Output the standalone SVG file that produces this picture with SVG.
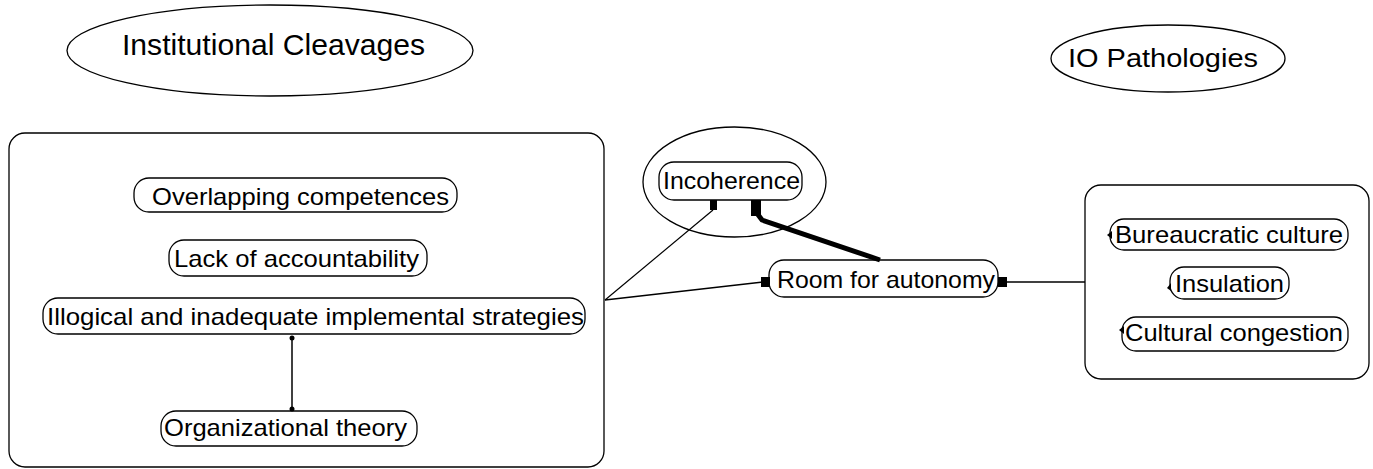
<svg xmlns="http://www.w3.org/2000/svg" width="1373" height="469" viewBox="0 0 1373 469">
<style>
.shape{fill:#fff;stroke:#000;stroke-width:1.3}
.t{font-family:"Liberation Sans",Arial,sans-serif;font-size:24px;fill:#000}
.h{font-family:"Liberation Sans",Arial,sans-serif;fill:#000}
.c{stroke:#000;fill:none}
.m{fill:#000;stroke:none}
</style>
<rect width="1373" height="469" fill="#fff"/>
<g id="institutional-cleavages">
<ellipse class="shape" cx="270" cy="50.5" rx="203" ry="45.5"/>
<text class="h" x="122" y="55" font-size="30" textLength="303" lengthAdjust="spacingAndGlyphs">Institutional Cleavages</text>
</g>
<g id="io-pathologies">
<ellipse class="shape" cx="1168" cy="58.5" rx="117" ry="33.5"/>
<text class="h" x="1068" y="67" font-size="26" textLength="190" lengthAdjust="spacingAndGlyphs">IO Pathologies</text>
</g>
<g id="left-container">
<rect class="shape" x="9" y="133" width="595" height="334" rx="16"/>
</g>
<g id="overlapping-competences">
<rect class="shape" x="134" y="178" width="323" height="34" rx="15"/>
<text class="t" x="152" y="205" textLength="297" lengthAdjust="spacingAndGlyphs">Overlapping competences</text>
</g>
<g id="lack-of-accountability">
<rect class="shape" x="169" y="240" width="258" height="36" rx="15"/>
<text class="t" x="174" y="267" textLength="245" lengthAdjust="spacingAndGlyphs">Lack of accountability</text>
</g>
<g id="illogical-strategies">
<rect class="shape" x="43" y="298" width="542" height="36" rx="15"/>
<text class="t" x="47" y="325" textLength="537" lengthAdjust="spacingAndGlyphs">Illogical and inadequate implemental strategies</text>
</g>
<g id="organizational-theory">
<rect class="shape" x="161" y="411" width="256" height="35" rx="15"/>
<text class="t" x="164" y="436" textLength="243" lengthAdjust="spacingAndGlyphs">Organizational theory</text>
</g>
<g id="incoherence-group">
<ellipse class="shape" cx="734.5" cy="182" rx="91.5" ry="55"/>
</g>
<g id="incoherence">
<rect class="shape" x="659" y="162" width="143" height="38" rx="15"/>
<text class="t" x="663" y="189" font-size="25" textLength="137" lengthAdjust="spacingAndGlyphs">Incoherence</text>
</g>
<g id="room-for-autonomy">
<rect class="shape" x="769" y="260" width="229" height="37" rx="15"/>
<text class="t" x="777" y="288" font-size="25" textLength="218" lengthAdjust="spacingAndGlyphs">Room for autonomy</text>
</g>
<g id="right-container">
<rect class="shape" x="1085" y="185" width="284" height="194" rx="16"/>
</g>
<g id="bureaucratic-culture">
<rect class="shape" x="1110" y="219" width="238" height="31" rx="14"/>
<text class="t" x="1115" y="243" textLength="228" lengthAdjust="spacingAndGlyphs">Bureaucratic culture</text>
</g>
<g id="insulation">
<rect class="shape" x="1170" y="267" width="119" height="32" rx="14"/>
<text class="t" x="1175" y="292" textLength="109" lengthAdjust="spacingAndGlyphs">Insulation</text>
</g>
<g id="cultural-congestion">
<rect class="shape" x="1122" y="317" width="226" height="34" rx="14"/>
<text class="t" x="1125" y="341" textLength="218" lengthAdjust="spacingAndGlyphs">Cultural congestion</text>
</g>
<g id="connectors">
<line class="c" x1="292" y1="338" x2="292" y2="409" stroke-width="1.5"/>
<circle class="m" cx="292" cy="338" r="2.5"/>
<circle class="m" cx="292" cy="409" r="2.5"/>
<line class="c" x1="605" y1="300" x2="713" y2="210" stroke-width="1.2"/>
<rect class="m" x="710" y="200" width="7" height="10"/>
<line class="c" x1="605" y1="300" x2="763" y2="282" stroke-width="1.5"/>
<rect class="m" x="761" y="277" width="9" height="10"/>
<polyline class="c" points="756,212 762,220 880,260" stroke-width="5"/>
<rect class="m" x="751" y="200" width="10" height="16"/>
<line class="c" x1="998" y1="282" x2="1085" y2="282" stroke-width="1.5"/>
<rect class="m" x="998" y="277" width="9" height="10"/>
<polygon class="m" points="1107,235 1112,231 1112,239"/>
<polygon class="m" points="1167,288 1171,283 1171,291"/>
<polygon class="m" points="1119,330 1124,326 1124,334"/>
</g>
</svg>
